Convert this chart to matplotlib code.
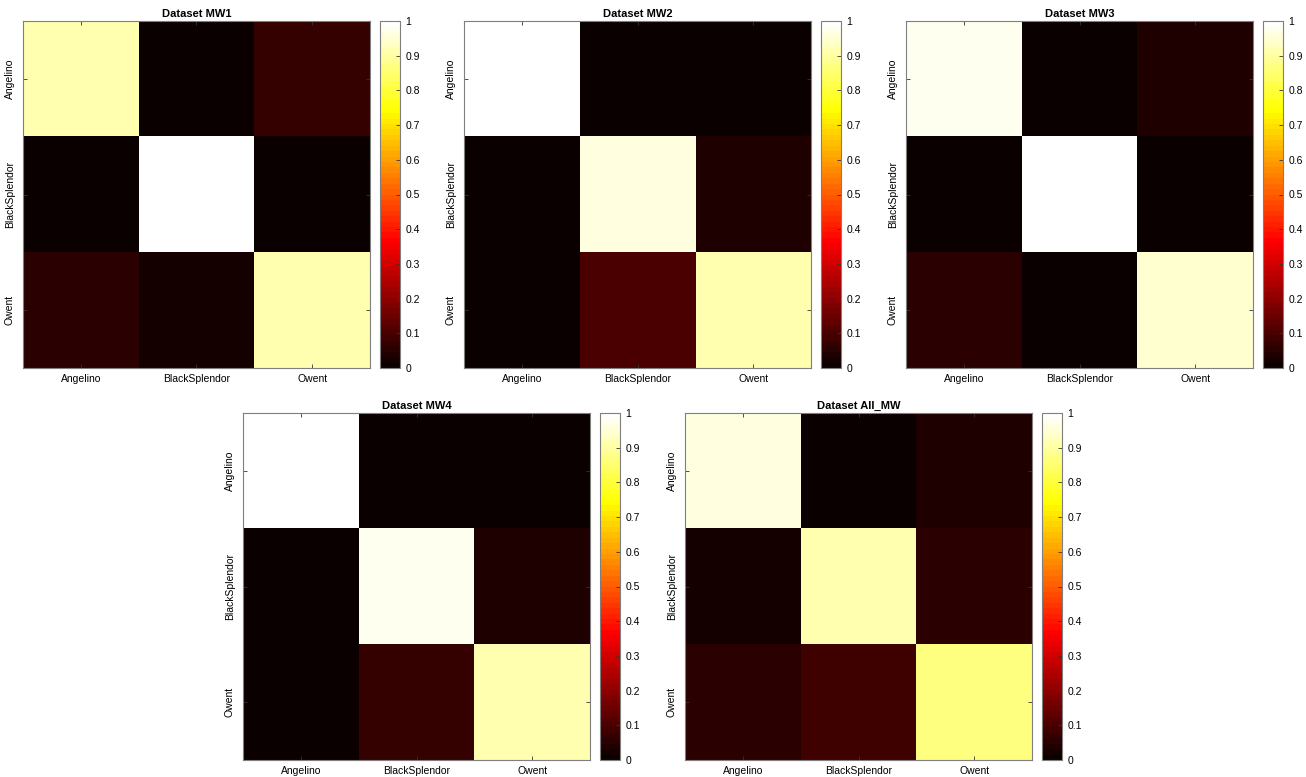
import numpy as np
import matplotlib
matplotlib.use("Agg")
import matplotlib.pyplot as plt
from matplotlib.ticker import FuncFormatter

plt.rcParams["font.family"] = ["Liberation Sans", "DejaVu Sans"]

labels = ["Angelino", "BlackSplendor", "Owent"]

mw1 = [[0.91, 0.015, 0.07],
       [0.015, 1.00, 0.015],
       [0.06, 0.025, 0.91]]
mw2 = [[1.00, 0.015, 0.015],
       [0.015, 0.96, 0.035],
       [0.015, 0.10, 0.91]]
mw3 = [[0.98, 0.015, 0.035],
       [0.015, 1.00, 0.015],
       [0.055, 0.015, 0.95]]
mw4 = [[1.00, 0.015, 0.015],
       [0.015, 0.97, 0.035],
       [0.015, 0.07, 0.92]]
all_mw = [[0.96, 0.015, 0.035],
          [0.025, 0.92, 0.055],
          [0.06, 0.08, 0.86]]

titles = ["Dataset MW1", "Dataset MW2", "Dataset MW3", "Dataset MW4", "Dataset All_MW"]
mats = [mw1, mw2, mw3, mw4, all_mw]

W, H = 1306, 777
# pixel boxes: (axes left, axes top, colorbar left)
boxes = [(23, 21, 380), (464, 21, 821), (906, 21, 1263),
         (243, 413, 600), (685, 413, 1042)]
AX_W, AX_H, CB_W = 347, 347, 20

fig = plt.figure(figsize=(W / 100, H / 100), dpi=100)
cmap = plt.get_cmap("hot", 64)
edge = "#7f7f7f"


def px(l, t, w, h):
    return [l / W, 1 - (t + h) / H, w / W, h / H]


for title, m, (l, t, cl) in zip(titles, mats, boxes):
    ax = fig.add_axes(px(l, t, AX_W, AX_H))
    im = ax.imshow(np.array(m), cmap=cmap, vmin=0, vmax=1, aspect="auto",
                   interpolation="nearest")
    ax.set_xticks(range(3))
    ax.set_yticks(range(3))
    ax.set_xticklabels(labels, fontsize=7.5)
    ax.set_yticklabels(labels, fontsize=7.5, rotation=90, va="center")
    ax.tick_params(direction="in", length=3, width=0.6, color="#333333",
                   top=True, right=True)
    ax.tick_params(axis="x", pad=4)
    ax.tick_params(axis="y", pad=6)
    for s in ax.spines.values():
        s.set_color(edge)
        s.set_linewidth(0.8)
    ax.set_title(title, fontsize=8, fontweight="bold", pad=3)

    cax = fig.add_axes(px(cl, t, CB_W, AX_H))
    cb = fig.colorbar(im, cax=cax, ticks=np.linspace(0, 1, 11))
    cb.ax.yaxis.set_major_formatter(FuncFormatter(lambda v, p: f"{v:g}"))
    cb.ax.tick_params(direction="in", length=3, width=0.6, labelsize=7.5,
                      color="#333333", pad=4)
    cb.outline.set_edgecolor(edge)
    cb.outline.set_linewidth(0.8)

fig.savefig("out.png", dpi=100)
